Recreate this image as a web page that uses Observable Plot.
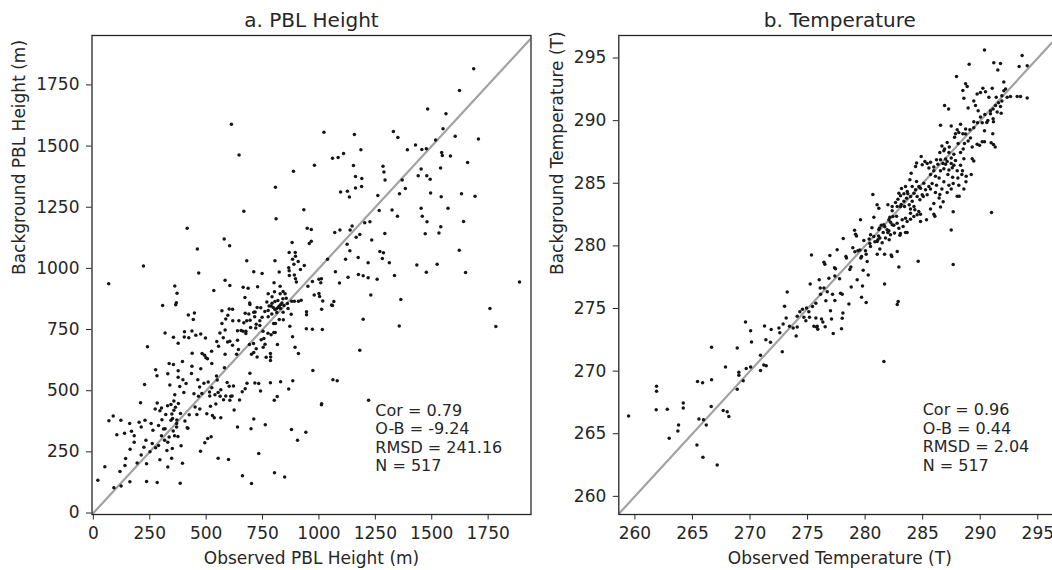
<!DOCTYPE html>
<html><head><meta charset="utf-8">
<script src="https://cdn.jsdelivr.net/npm/d3@7"></script>
<script src="https://cdn.jsdelivr.net/npm/@observablehq/plot@0.6"></script>
<style>
html,body{margin:0;padding:0;background:#fff;overflow:hidden;width:1052px;height:570px;}
#wrap{position:relative;width:1052px;height:570px;overflow:hidden;}
.panel{position:absolute;top:0;}
.panel svg{max-width:none !important;display:block;}
</style></head><body>
<div id="wrap"><div id="a" class="panel" style="left:0;width:540px"></div><div id="b" class="panel" style="left:530px;width:531px"></div></div>
<script>
// ---------- data ----------
const pblTicks = [0, 250, 500, 750, 1000, 1250, 1500, 1750];
const tempTicks = [260, 265, 270, 275, 280, 285, 290, 295];
const pblTitle = "a. PBL Height";
const tempTitle = "b. Temperature";
const pblStats = ["Cor = 0.79", "O-B = -9.24", "RMSD = 241.16", "N = 517"];
const tempStats = ["Cor = 0.96", "O-B = 0.44", "RMSD = 2.04", "N = 517"];

// [observed, background] PBL height (m)
const pblPoints = [
[20,134],[51,189],[91,103],[123,111],[118,170],[140,194],[143,223],[162,128],[163,261],[181,289],[194,205],[212,237],[224,269],[233,297],[236,201],[236,129],[251,250],[261,284],[276,267],[283,125],[289,276],[295,218],[302,316],[316,298],[318,345],[326,256],[330,188],[330,289],[336,311],[347,224],[354,335],[350,264],[360,316],[369,352],[375,313],[385,122],[389,275],[395,204],[416,349],[475,253],[494,287],[507,305],[522,312],[553,224],[599,219],[661,152],[701,121],[733,243],[711,384],[699,345],
[69,377],[88,397],[122,379],[104,320],[138,326],[161,366],[169,334],[181,316],[203,371],[212,352],[229,379],[209,451],[227,525],[240,680],[256,366],[264,338],[276,586],[282,561],[274,425],[283,450],[289,358],[295,418],[302,429],[304,381],[311,343],[321,403],[329,439],[330,569],[336,611],[339,523],[344,444],[344,379],[348,405],[351,386],[355,607],[357,458],[357,420],[361,484],[364,432],[369,366],[370,380],[376,582],[376,555],[377,448],[383,517],[386,407],[395,619],[397,545],[401,493],[406,376],[411,529],[419,347],[425,402],[435,570],[437,600],[438,653],[446,488],[451,433],[459,403],[463,545],[466,477],[471,515],[472,425],[476,590],[481,489],[482,652],[490,530],[493,645],[499,635],[503,406],[506,631],[509,536],[515,495],[516,478],[519,437],[525,611],[525,512],[528,399],[536,389],[539,484],[543,446],[546,560],[549,544],[553,493],[562,477],[565,504],[565,389],[577,463],[581,594],[584,649],[587,478],[593,534],[602,518],[605,461],[609,477],[615,478],[621,519],[624,421],[635,649],[643,668],[648,462],[660,496],[673,508],[681,530],[694,571],[716,532],[733,529],[701,649],[711,656],[722,672],[710,693],[726,638],[676,734],[692,689],[639,706],[617,686],[605,702],[595,699],[576,716],[561,736],[547,701],[555,682],[524,661],[497,715],[476,732],[454,727],[423,717],[403,720],[376,694],[355,719],[318,736],
[948,1164],[966,1159],[1070,1147],[1093,1157],[1147,1173],[1203,1187],[1226,1191],[1138,1157],[1181,1139],[1165,1127],[1292,1143],[1234,1116],[580,1120],[604,1093],[881,1106],[957,1102],[966,1111],[1125,1099],[1137,1072],[1270,1069],[1286,1064],[868,1065],[895,1065],[896,1050],[883,1037],[680,1031],[805,1031],[908,1028],[889,1017],[935,1012],[918,995],[866,1003],[868,990],[711,986],[748,979],[824,985],[891,973],[869,971],[1118,1037],[1174,1045],[1218,1023],[1281,1040],[1312,1023],[1038,1037],[1073,986],[584,952],[605,930],[896,958],[900,944],[801,941],[828,927],[951,927],[971,946],[1000,956],[1011,958],[1008,941],[1091,940],[1129,964],[1175,975],[1196,970],[1218,962],[1258,956],[664,923],[686,919],[728,925],[803,905],[828,896],[841,906],[850,896],[672,881],[775,896],[792,884],[1000,897],[979,891],[1003,885],[1230,891],[921,870],[909,866],[891,866],[879,866],[855,878],[840,876],[836,859],[818,869],[805,865],[792,858],[769,863],[779,846],[788,846],[797,840],[805,832],[812,835],[819,840],[824,846],[831,852],[845,848],[830,836],[775,828],[760,824],[742,839],[717,822],[726,840],[693,859],[694,852],[711,821],[689,814],[673,817],[791,814],[813,820],[841,821],[863,836],[860,856],[877,813],[842,790],[824,791],[799,775],[807,775],[775,802],[748,800],[738,786],[722,772],[738,767],[695,788],[715,802],[680,786],[667,778],[645,786],[596,808],[587,793],[602,834],[617,833],[570,827],[618,786],[570,775],[584,748],[639,745],[663,743],[676,743],[697,758],[720,756],[752,743],[774,735],[800,738],[788,729],[756,713],[744,708],[761,690],[655,746],[753,678],[766,637],[785,652],[786,638],[785,624],[816,689],[806,738],[871,763],[883,721],[894,678],[909,652],[945,823],[945,811],[971,751],[944,753],[1015,750],[1012,833],[1017,867],[1056,850],[1066,865],[1060,848],[1196,792],[1181,665],[973,583],[1062,545],[1081,541],[785,533],[815,476],[802,461],[830,537],[866,507],[884,541],[1012,447],[1220,461],[741,499],
[1686,1816],[1623,1727],[1482,1652],[1563,1632],[612,1589],[1022,1557],[1330,1560],[1350,1535],[1157,1547],[1550,1571],[1604,1540],[1707,1529],[1517,1525],[1428,1504],[1392,1485],[1186,1485],[1456,1486],[1476,1489],[1109,1470],[1085,1453],[1060,1450],[1544,1474],[1547,1461],[1583,1459],[1659,1433],[646,1464],[980,1422],[1153,1421],[1284,1418],[1539,1410],[1453,1406],[887,1397],[1288,1394],[1162,1376],[1440,1379],[1478,1379],[1190,1367],[1293,1361],[1493,1364],[1369,1361],[1383,1327],[1162,1329],[1189,1335],[807,1332],[1096,1312],[1126,1315],[1135,1292],[1357,1305],[1495,1308],[1542,1293],[1632,1305],[1692,1295],[1261,1298],[667,1234],[933,1240],[1267,1237],[1453,1246],[1572,1246],[1324,1239],[1348,1213],[1458,1213],[810,1203],[1479,1191],[1641,1192],[1532,1145],[1540,1170],[416,1164],[1471,1142],[461,1079],[1524,1017],[1434,1014],[1622,1074],[222,1010],[1650,983],[1476,984],[467,981],[1335,971],[1889,944],[68,937],[534,910],[361,928],[371,898],[1363,873],[1758,836],[1784,762],[1356,765],[942,330],[905,298],[878,341],[848,147],[803,165],[762,361],[639,352],[1011,443],
[307,848],[365,851],[368,860],[421,809],[448,818],[443,791],[404,741],[437,744]
];

// [observed, background] temperature
const tempPoints = [
[259.45,266.41],[261.88,268.79],[261.88,268.39],[261.85,266.91],[262.81,266.96],[262.98,264.64],[263.79,265.69],[263.73,265.22],[264.20,267.46],[264.20,267.05],[265.44,269.17],[265.88,269.08],[265.56,266.18],[265.96,266.12],[266.20,265.69],[265.39,264.09],[265.91,263.13],[267.15,262.50],[266.66,271.90],[266.66,269.32],[266.63,267.17],[267.87,270.33],[267.67,266.85],[268.02,266.76],[268.16,266.38],[268.89,271.84],[268.89,268.56],[269.03,269.90],[269.03,269.66],[269.41,269.23],[269.61,273.93],[269.67,270.21],[270.05,273.23],[270.13,272.33],[270.05,270.33],[270.91,271.26],[270.91,270.04],[271.20,270.48],[271.41,270.42],[271.26,273.61],[271.38,272.51],[271.78,272.30],[271.84,273.32],[272.51,273.44],[272.59,273.06],[272.80,271.55],[272.88,273.76],[273.00,275.18],[273.14,274.25],[273.23,276.31],[273.43,273.58],[273.75,273.44],[274.01,272.80],[274.10,274.39],[274.10,273.52],[274.33,274.74],[274.56,274.94],[274.68,274.31],[274.85,274.02],[274.91,275.03],[275.11,274.74],[275.17,274.31],[275.23,276.95],[275.34,279.27],[275.43,275.15],[275.55,273.58],[275.72,275.41],[275.72,274.25],[275.78,273.52],[275.84,273.58],[275.89,273.35],[276.01,277.30],[276.10,276.63],[276.13,276.13],[276.21,274.16],[276.33,273.93],[276.42,278.69],[276.50,278.54],[276.42,276.63],[276.53,273.55],[276.59,275.61],[276.71,276.34],[276.85,277.41],[276.94,279.24],[276.99,274.83],[277.08,274.16],[277.17,276.13],[277.23,273.00],[277.34,278.25],[277.37,275.64],[277.37,277.59],[277.43,278.17],[277.57,279.70],[277.78,277.38],[277.86,276.22],[277.95,273.38],[278.01,274.22],[278.01,276.13],[278.07,274.65],[278.10,280.58],[278.33,279.15],[278.38,279.04],[278.59,275.35],[278.67,278.11],[278.76,278.31],[278.79,276.72],[278.93,279.85],[279.08,281.24],[279.11,279.53],[279.17,280.92],[279.25,280.78],[279.31,277.30],[279.37,279.62],[279.54,279.68],[279.60,282.08],[279.63,279.04],[279.69,275.90],[279.69,279.15],[279.77,276.80],[279.83,278.05],[279.89,280.43],[280.03,279.62],[280.09,279.33],[280.09,275.47],[280.18,278.75],[280.27,277.67],[280.35,280.55],[280.41,280.20],[280.47,280.89],[280.59,281.44],[280.67,284.11],[280.76,282.29],[280.85,280.34],[281.05,279.33],[281.11,280.49],[281.16,280.78],[281.19,281.30],[281.25,281.42],[281.28,279.76],[281.40,281.65],[281.48,280.26],[281.57,281.07],[281.63,270.77],[281.69,276.95],[281.69,279.33],[281.71,281.53],[281.97,281.07],[282.06,281.21],[282.09,280.49],[282.15,282.29],[282.21,281.88],[282.32,279.15],[282.26,279.27],[282.35,282.81],[282.50,281.65],[282.73,282.37],[282.79,279.56],[282.79,275.32],[282.87,275.55],[282.93,278.31],[283.02,280.84],[283.07,280.98],[283.51,281.07],[283.65,281.07],[284.61,278.78],[287.65,278.51],[287.48,281.27],[287.65,282.72],[290.98,282.66],
[282.06,282.08],[282.41,282.35],[281.62,281.68],[281.91,281.28],[280.75,280.75],[281.04,280.35],[281.28,280.62],[280.47,279.95],[281.77,280.62],[282.20,280.88],[282.55,281.02],[282.93,281.41],[283.30,281.55],[283.65,281.95],[283.94,282.13],[284.23,282.35],[284.52,282.48],[284.66,282.74],[284.32,282.88],[283.94,282.61],[283.51,282.21],[283.22,282.08],[282.78,281.81],[282.35,281.68],[281.04,283.28],[281.19,283.01],[284.81,282.52],[284.81,281.94],[285.33,282.08],[283.94,282.95],
[281.98,283.28],[282.35,283.15],[282.64,283.47],[282.85,283.73],[283.08,284.00],[282.79,283.15],[283.13,283.31],[283.37,283.57],[283.60,283.81],[283.37,284.16],[283.71,284.16],[283.95,283.95],[284.09,283.57],[284.24,284.21],[284.38,284.48],[284.52,283.95],[284.76,283.68],[284.96,284.08],[284.67,284.75],[284.47,285.14],[284.81,284.61],[285.10,285.01],[285.25,284.48],[285.05,283.95],[285.39,284.08],[285.54,284.75],[284.24,283.15],[283.83,283.28],[283.42,283.15],[283.08,283.15],[283.89,285.28],[284.09,284.75],[283.51,284.75],[283.66,284.35],[283.16,284.59],[282.93,284.21],[284.38,286.34],[284.47,286.61],[284.96,286.47],[285.19,286.74],[284.87,287.14],[285.54,286.21],[284.00,285.81],
[290.37,295.64],[293.64,295.20],[291.18,294.62],[291.76,294.56],[289.04,294.50],[293.38,294.33],[294.08,294.39],[291.53,294.04],[287.94,293.52],[288.73,292.94],[288.87,292.73],[292.05,293.08],[290.23,292.59],[291.04,292.59],[288.49,292.41],[288.58,291.78],[289.73,292.12],[290.02,292.24],[290.46,292.30],[292.05,292.38],[292.20,292.53],[290.75,291.86],[291.39,291.86],[291.88,291.98],[292.34,291.86],[292.63,291.92],[293.21,291.92],[293.50,291.92],[294.08,291.81],[291.88,291.57],[291.59,291.43],[291.33,291.22],[291.76,291.14],[289.44,291.57],[289.59,291.22],[288.95,291.02],[291.12,290.93],[290.89,290.79],[291.47,290.70],[291.82,290.59],[290.89,290.56],[286.90,291.22],[287.25,290.93],[289.82,290.79],[290.40,290.50],[290.02,290.30],[290.66,290.01],[291.12,290.15],[289.76,289.83],[290.17,289.83],[290.57,289.86],[291.15,289.92],[289.44,289.92],[291.09,288.96],[290.37,289.19],[286.55,289.63],[287.48,289.57],[288.00,289.28],[288.29,289.71],[288.73,289.34],[289.10,289.28],[289.44,289.43],[288.73,288.93],[288.95,288.38],[289.15,288.61],[288.49,288.96],[287.77,288.67],[287.85,288.96],[288.14,289.05],[289.73,288.12],[289.30,287.89],[290.17,288.32],[290.37,288.32],[289.94,288.03],[290.95,288.23],[291.15,288.09],[291.30,287.89],[287.13,288.26],[288.08,288.17],[288.63,288.17],[287.28,287.45],[287.71,287.31],[288.29,287.45],[288.52,287.74],[288.58,286.96],[289.30,286.96],[289.44,286.78],[286.67,287.97],[286.90,287.74],[287.31,287.89],[286.49,287.45],[286.84,287.60],[287.48,287.02],[288.29,286.44],[288.46,286.00],[288.00,286.00],[286.55,286.87],[286.99,286.93],[286.76,286.58],[286.99,286.52],[287.13,286.73],[287.48,286.58],[287.71,286.44],[287.85,286.81],[286.20,286.87],[286.32,286.52],[285.97,286.29],[285.68,286.67],[285.39,286.58],[285.97,286.00],[286.55,286.00],[286.84,286.15],[287.28,286.06],[287.57,286.23],[287.19,285.71],[287.60,285.48],[288.06,285.42],[288.40,285.71],[288.78,285.57],[289.22,285.71],[285.68,285.71],[286.11,285.57],[286.43,285.42],[287.65,284.99],[288.14,284.84],[288.58,284.55],[288.76,285.13],[288.00,283.97],[288.17,283.97],[286.84,285.13],[287.28,284.84],[286.67,284.55],[287.13,284.26],[287.48,284.55],[285.82,284.99],[286.20,284.84],[285.68,284.55],[286.11,284.26],[286.49,284.11],[286.78,283.53],[286.55,283.10],[285.97,282.52],[286.06,282.37],[286.43,283.82],[285.97,283.39],[285.68,282.95]
];

// ---------- drawing ----------
const ink = "#262626";
function panel(o) {
  return Plot.plot({
    width: o.width, height: 570,
    marginLeft: o.marginLeft, marginRight: o.marginRight, marginTop: 35, marginBottom: 56,
    style: {fontFamily: "'DejaVu Sans', sans-serif", fontSize: "17px", color: ink, background: "transparent", maxWidth: "none", overflow: "visible"},
    x: {domain: o.xDomain},
    y: {domain: o.yDomain},
    marks: [
      Plot.line(o.diag, {x: d => d, y: d => d, stroke: "#a2a2a2", strokeWidth: 2.2, clip: true}),
      Plot.dot(o.points, {x: d => d[0], y: d => d[1], r: 1.75, fill: "#151515", stroke: null}),
      Plot.frame({stroke: ink, strokeWidth: 1.3}),
      Plot.axisX({ticks: o.ticks, tickSize: 5.5, tickPadding: 7, label: null, fontSize: 17, tickFormat: d => String(d)}),
      Plot.axisY({ticks: o.ticks, tickSize: 5.5, tickPadding: 7, label: null, fontSize: 17, tickFormat: d => String(d)}),
      Plot.text([o.stats.join("\n")], {x: () => o.statPos[0], y: () => o.statPos[1], text: d => d, textAnchor: "start", lineAnchor: "top", lineHeight: 1.15, fontSize: 16, fill: ink}),
      Plot.text([o.title], {frameAnchor: "top", dy: -9, lineAnchor: "bottom", fontSize: 20, text: d => d, fill: ink}),
      Plot.text([o.xLabel], {frameAnchor: "bottom", dy: 49.5, lineAnchor: "bottom", fontSize: 17, text: d => d, fill: ink}),
      Plot.text([o.yLabel], {frameAnchor: "left", dx: o.yLabelDx, rotate: -90, lineAnchor: "bottom", fontSize: 17, text: d => d, fill: ink})
    ]
  });
}

document.getElementById("a").append(panel({
  width: 540, marginLeft: 91.5, marginRight: 9.5,
  xDomain: [-6, 1940], yDomain: [-6, 1952], diag: [-100, 2100],
  points: pblPoints, ticks: pblTicks, stats: pblStats, statPos: [1250, 450],
  title: pblTitle, xLabel: "Observed PBL Height (m)", yLabel: "Background PBL Height (m)", yLabelDx: -66.8
}));
document.getElementById("b").append(panel({
  width: 531, marginLeft: 88.3, marginRight: 0.7,
  xDomain: [258.6, 297.0], yDomain: [258.55, 296.8], diag: [250, 300],
  points: tempPoints, ticks: tempTicks, stats: tempStats, statPos: [285, 267.5],
  title: tempTitle, xLabel: "Observed Temperature (T)", yLabel: "Background Temperature (T)", yLabelDx: -56.3
}));
</script>
</body></html>
